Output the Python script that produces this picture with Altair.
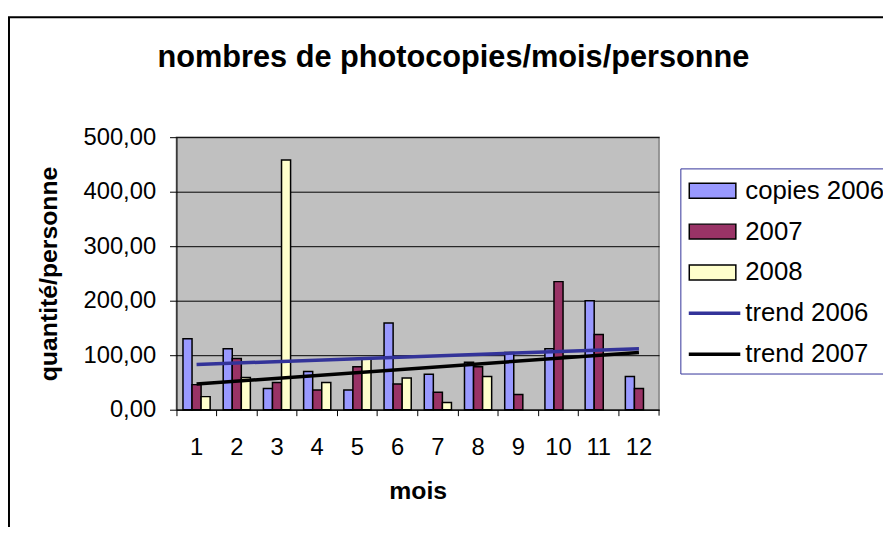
import altair as alt
import pandas as pd

# ---------------- data ----------------
months = ["1", "2", "3", "4", "5", "6", "7", "8", "9", "10", "11", "12"]
copies_2006 = [130, 112, 39, 70, 36, 159, 65, 87, 105, 112, 200, 61]
copies_2007 = [46, 94, 50, 36, 79, 47, 32, 79, 28, 235, 138, 39]
copies_2008 = [24, 59, 458, 50, 93, 58, 13, 61, None, None, None, None]
series_names = ["copies 2006", "2007", "2008"]

trend_names = ["trend 2006", "trend 2007"]
trend_months = ["1", "12"]
trend_2006 = [83, 112]
trend_2007 = [47, 105]

legend_labels = series_names + trend_names
y_ticks = [0, 100, 200, 300, 400, 500]

# ---------------- tables built from the arrays ----------------
rows = []
for name, vals in zip(series_names, [copies_2006, copies_2007, copies_2008]):
    for m, v in zip(months, vals):
        if v is not None:
            rows.append({"month": m, "series": name, "value": v})
bar_df = pd.DataFrame(rows)

trows = []
for name, vals in zip(trend_names, [trend_2006, trend_2007]):
    for m, v in zip(trend_months, vals):
        trows.append({"month": m, "series": name, "value": v})
trend_df = pd.DataFrame(trows)

leg_bar_df = pd.DataFrame({"label": series_names})
leg_line_df = pd.DataFrame({"label": trend_names})
leg_text_df = pd.DataFrame({"label": legend_labels})
one_df = pd.DataFrame({"a": [0]})

# ---------------- styles ----------------
W, H = 487, 275
FONT = "Liberation Sans"
fill_scale = alt.Scale(domain=series_names, range=["#9999FF", "#993366", "#FFFFCC"])
stroke_scale = alt.Scale(domain=trend_names, range=["#333399", "#000000"])
x_scale = alt.Scale(domain=months, paddingInner=0, paddingOuter=0)
y_scale = alt.Scale(domain=[0, 500], nice=False)

x_axis = alt.Axis(
    title="mois", titleFontSize=25, titleFontWeight="bold", titleColor="black",
    titlePadding=20, labelFontSize=24, labelColor="black", labelAngle=0,
    labelPadding=20, bandPosition=0, tickSize=6,
    tickColor="black", domainColor="black", grid=False,
)
y_axis = alt.Axis(
    title="quantité/personne", titleFontSize=25, titleFontWeight="bold",
    titleColor="black", titleX=-116, titleY=H / 2, titleAngle=-90,
    titleBaseline="bottom", values=y_ticks,
    labelExpr="replace(format(datum.value, '.2f'), '.', ',')",
    labelFontSize=24, labelColor="black", labelPadding=14, tickSize=7,
    tickColor="black", domainColor="black", gridColor="black", gridWidth=1,
)

x_enc = alt.X("month:N", scale=x_scale, sort=months, axis=x_axis)
y_enc = alt.Y("value:Q", scale=y_scale, axis=y_axis)

bars = alt.Chart(bar_df).mark_bar(stroke="black", strokeWidth=1.5).encode(
    x=x_enc,
    xOffset=alt.XOffset("series:N", sort=series_names,
                        scale=alt.Scale(domain=series_names, paddingInner=0, paddingOuter=0.72)),
    y=y_enc,
    fill=alt.Fill("series:N", scale=fill_scale, legend=None),
)

trend = alt.Chart(trend_df).mark_line(strokeWidth=3.5).encode(
    x=x_enc,
    y=y_enc,
    stroke=alt.Stroke("series:N", scale=stroke_scale, legend=None),
)

main = alt.layer(bars, trend)

end_tick = alt.Chart(one_df).mark_rule(color="black").encode(
    x=alt.value(W), y=alt.value(H), y2=alt.value(H + 6)
)

border = alt.Chart(one_df).mark_rect(fillOpacity=0, stroke="black", strokeWidth=2).encode(
    x=alt.value(-169), x2=alt.value(900), y=alt.value(-121), y2=alt.value(700)
)

# ---------------- legend ----------------
leg_y = alt.Y("label:N", sort=legend_labels,
              scale=alt.Scale(type="point", domain=legend_labels, range=[54, 219], padding=0),
              axis=None)

box = alt.Chart(one_df).mark_rect(fill="white", stroke="#333399", strokeWidth=1).encode(
    x=alt.value(509), x2=alt.value(900), y=alt.value(32), y2=alt.value(239)
)
swatches = alt.Chart(leg_bar_df).mark_point(
    shape="M-1,-0.32L1,-0.32L1,0.32L-1,0.32Z", size=2209, filled=True,
    stroke="black", strokeWidth=1.5, opacity=1,
).encode(x=alt.value(541), y=leg_y, fill=alt.Fill("label:N", scale=fill_scale, legend=None))
lines = alt.Chart(leg_line_df).mark_rule(strokeWidth=3.5).encode(
    x=alt.value(517), x2=alt.value(569), y=leg_y,
    stroke=alt.Stroke("label:N", scale=stroke_scale, legend=None),
)
texts = alt.Chart(leg_text_df).mark_text(
    align="left", baseline="middle", fontSize=26, color="black"
).encode(x=alt.value(574), y=leg_y, text="label:N")

legend = alt.layer(box, swatches, lines, texts)

chart = alt.layer(border, main, end_tick, legend).resolve_scale(y="independent").properties(
    width=W, height=H,
    autosize=alt.AutoSizeParams(type="none"),
    padding={"left": 170, "top": 128, "right": 226, "bottom": 116},
    title=alt.Title(
        "nombres de photocopies/mois/personne", fontSize=31, fontWeight="bold",
        color="black", anchor="middle", frame="group", dx=36, offset=0,
        baseline="alphabetic", dy=82,
    ),
).configure(font=FONT).configure_view(fill="#C0C0C0", stroke="#808080", strokeWidth=1.5)

chart.save("out.html", embed_options={"renderer": "svg", "actions": False})
